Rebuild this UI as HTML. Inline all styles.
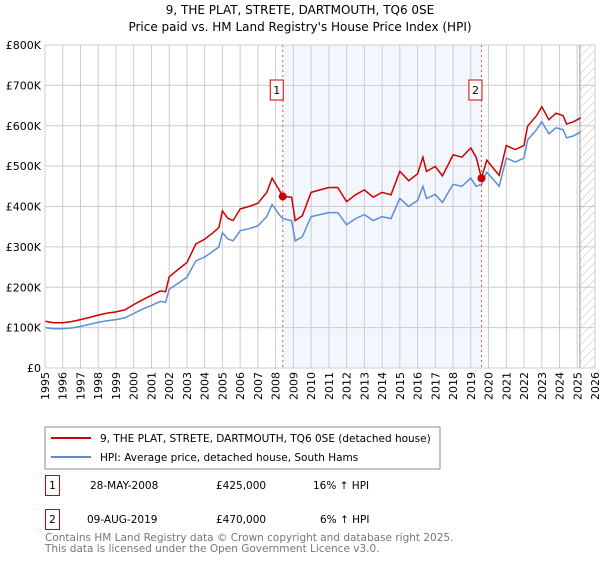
<!DOCTYPE html>
<html><head><meta charset="utf-8"><style>
body{margin:0;background:#fff;font-family:"Liberation Sans",sans-serif}
svg text{font-family:"DejaVu Sans","Liberation Sans",sans-serif}
</style></head><body>
<svg id="c" width="600" height="560" xmlns="http://www.w3.org/2000/svg">
<defs><pattern id="h" width="6" height="6" patternUnits="userSpaceOnUse" patternTransform="rotate(45)"><line x1="0" y1="0" x2="0" y2="6" stroke="#bbb" stroke-width="1"/></pattern></defs>
<text x="300" y="14" text-anchor="middle" font-size="12">9, THE PLAT, STRETE, DARTMOUTH, TQ6 0SE</text>
<text x="300" y="31" text-anchor="middle" font-size="12">Price paid vs. HM Land Registry's House Price Index (HPI)</text>
<g id="plot"></g>
<rect x="45" y="427" width="395" height="42" fill="#fff" stroke="#888"/>
<line x1="51" y1="438" x2="91" y2="438" stroke="#cc0000" stroke-width="2"/>
<text x="100" y="442" font-size="10.5">9, THE PLAT, STRETE, DARTMOUTH, TQ6 0SE (detached house)</text>
<line x1="51" y1="457" x2="91" y2="457" stroke="#5b8fd4" stroke-width="2"/>
<text x="100" y="461" font-size="10.5">HPI: Average price, detached house, South Hams</text>
<g font-size="10.5">
<rect x="45.5" y="475.5" width="14" height="20" fill="none" stroke="#cc0000"/>
<text x="52.5" y="489" text-anchor="middle">1</text>
<text x="90" y="489">28-MAY-2008</text><text x="216" y="489">£425,000</text><text x="313" y="489">16% ↑ HPI</text>
<rect x="45.5" y="509.5" width="14" height="20" fill="none" stroke="#cc0000"/>
<text x="52.5" y="523" text-anchor="middle">2</text>
<text x="87" y="523">09-AUG-2019</text><text x="216" y="523">£470,000</text><text x="320" y="523">6% ↑ HPI</text>
</g>
<text x="45" y="541" font-size="10.5" fill="#777">Contains HM Land Registry data © Crown copyright and database right 2025.</text>
<text x="45" y="552" font-size="10.5" fill="#777">This data is licensed under the Open Government Licence v3.0.</text>
</svg>
<script>
const years=[1995,1995.5,1996,1996.5,1997,1997.5,1998,1998.5,1999,1999.5,2000,2000.5,2001,2001.5,2001.8,2002,2002.5,2003,2003.5,2004,2004.5,2004.8,2005,2005.3,2005.6,2006,2006.5,2007,2007.5,2007.8,2008.2,2008.4,2008.9,2009.1,2009.5,2010,2010.5,2011,2011.5,2012,2012.5,2013,2013.5,2014,2014.5,2015,2015.5,2016,2016.3,2016.5,2017,2017.4,2017.8,2018,2018.5,2019,2019.3,2019.6,2019.9,2020.3,2020.6,2021,2021.5,2022,2022.2,2022.7,2023,2023.4,2023.8,2024.2,2024.4,2024.8,2025.2];
const hpi=[100,97,97,99,103,108,113,117,120,124,135,146,155,165,163,195,210,225,265,275,290,300,335,320,315,340,345,352,375,405,380,370,365,315,325,375,380,385,385,355,370,380,365,375,370,420,400,415,450,420,430,410,440,455,450,470,450,455,485,465,450,520,510,520,565,590,610,580,595,590,570,575,585];
const price=[116,112,112,115,120,125,131,136,139,144,157,169,180,191,189,226,244,261,307,319,336,348,389,371,365,394,400,408,435,470,441,425,423,365,377,435,441,447,447,412,429,441,423,435,429,487,464,481,522,487,499,476,510,528,522,545,522,470,515,493,477,551,541,551,599,625,647,615,631,625,604,610,620];
const yTicks=[0,100,200,300,400,500,600,700,800];
const yLabels=["£0","£100K","£200K","£300K","£400K","£500K","£600K","£700K","£800K"];
const xTicks=[1995,1996,1997,1998,1999,2000,2001,2002,2003,2004,2005,2006,2007,2008,2009,2010,2011,2012,2013,2014,2015,2016,2017,2018,2019,2020,2021,2022,2023,2024,2025,2026];
const saleYears=[2008.4,2019.6];
const saleValues=[425,470];
const saleLabels=["1","2"];
const X0=45,X1=595,Y0=368,Y1=45;
const sx=y=>X0+(y-1995)/(2026-1995)*(X1-X0);
const sy=v=>Y0-v/800*(Y0-Y1);
const g=document.getElementById('plot');const NS='http://www.w3.org/2000/svg';
function mk(t,a,p){const e=document.createElementNS(NS,t);for(const k in a)e.setAttribute(k,a[k]);(p||g).appendChild(e);return e;}
let e=mk('rect',{x:sx(saleYears[0]),y:Y1,width:sx(saleYears[1])-sx(saleYears[0]),height:Y0-Y1,fill:'#eef3fc',opacity:0.7});


xTicks.forEach(t=>{const l=mk('line',{x1:sx(t),x2:sx(t),y1:Y1,y2:Y0,stroke:'#ccc'});


const tx=mk('text',{x:0,y:0,'font-size':11,'text-anchor':'end',transform:`translate(${sx(t)+4},${Y0+4}) rotate(-90)`});tx.textContent=t;

});
yTicks.forEach((t,i)=>{const l=mk('line',{x1:X0,x2:X1,y1:sy(t),y2:sy(t),stroke:'#ccc'});


const tx=mk('text',{x:X0-4,y:sy(t)+4,'font-size':11,'text-anchor':'end'});tx.textContent=yLabels[i];

});
e=mk('rect',{x:sx(2025.15),y:Y1,width:X1-sx(2025.15),height:Y0-Y1,fill:'url(#h)',stroke:'#999'});


saleYears.forEach((s,i)=>{const l=mk('line',{x1:sx(s),x2:sx(s),y1:Y1,y2:Y0,stroke:'#e05050','stroke-dasharray':'2,3'});

});
const pts=a=>a.map((v,i)=>sx(years[i]).toFixed(1)+','+sy(v).toFixed(1)).join(' ');
e=mk('polyline',{points:pts(hpi),fill:'none',stroke:'#5b8fd4','stroke-width':1.5});


e=mk('polyline',{points:pts(price),fill:'none',stroke:'#cc0000','stroke-width':1.5});


saleYears.forEach((s,i)=>{const c=mk('circle',{cx:sx(s),cy:sy(saleValues[i]),r:4,fill:'#cc0000'});


const r=mk('rect',{x:sx(s)-12.5,y:80,width:13,height:20,fill:'#fff',stroke:'#cc0000'});


const t=mk('text',{x:sx(s)-6,y:94,'font-size':11,'text-anchor':'middle'});t.textContent=saleLabels[i];

});
e=mk('rect',{x:X0,y:Y1,width:X1-X0,height:Y0-Y1,fill:'none',stroke:'#ccc'});


</script>
</body></html>
